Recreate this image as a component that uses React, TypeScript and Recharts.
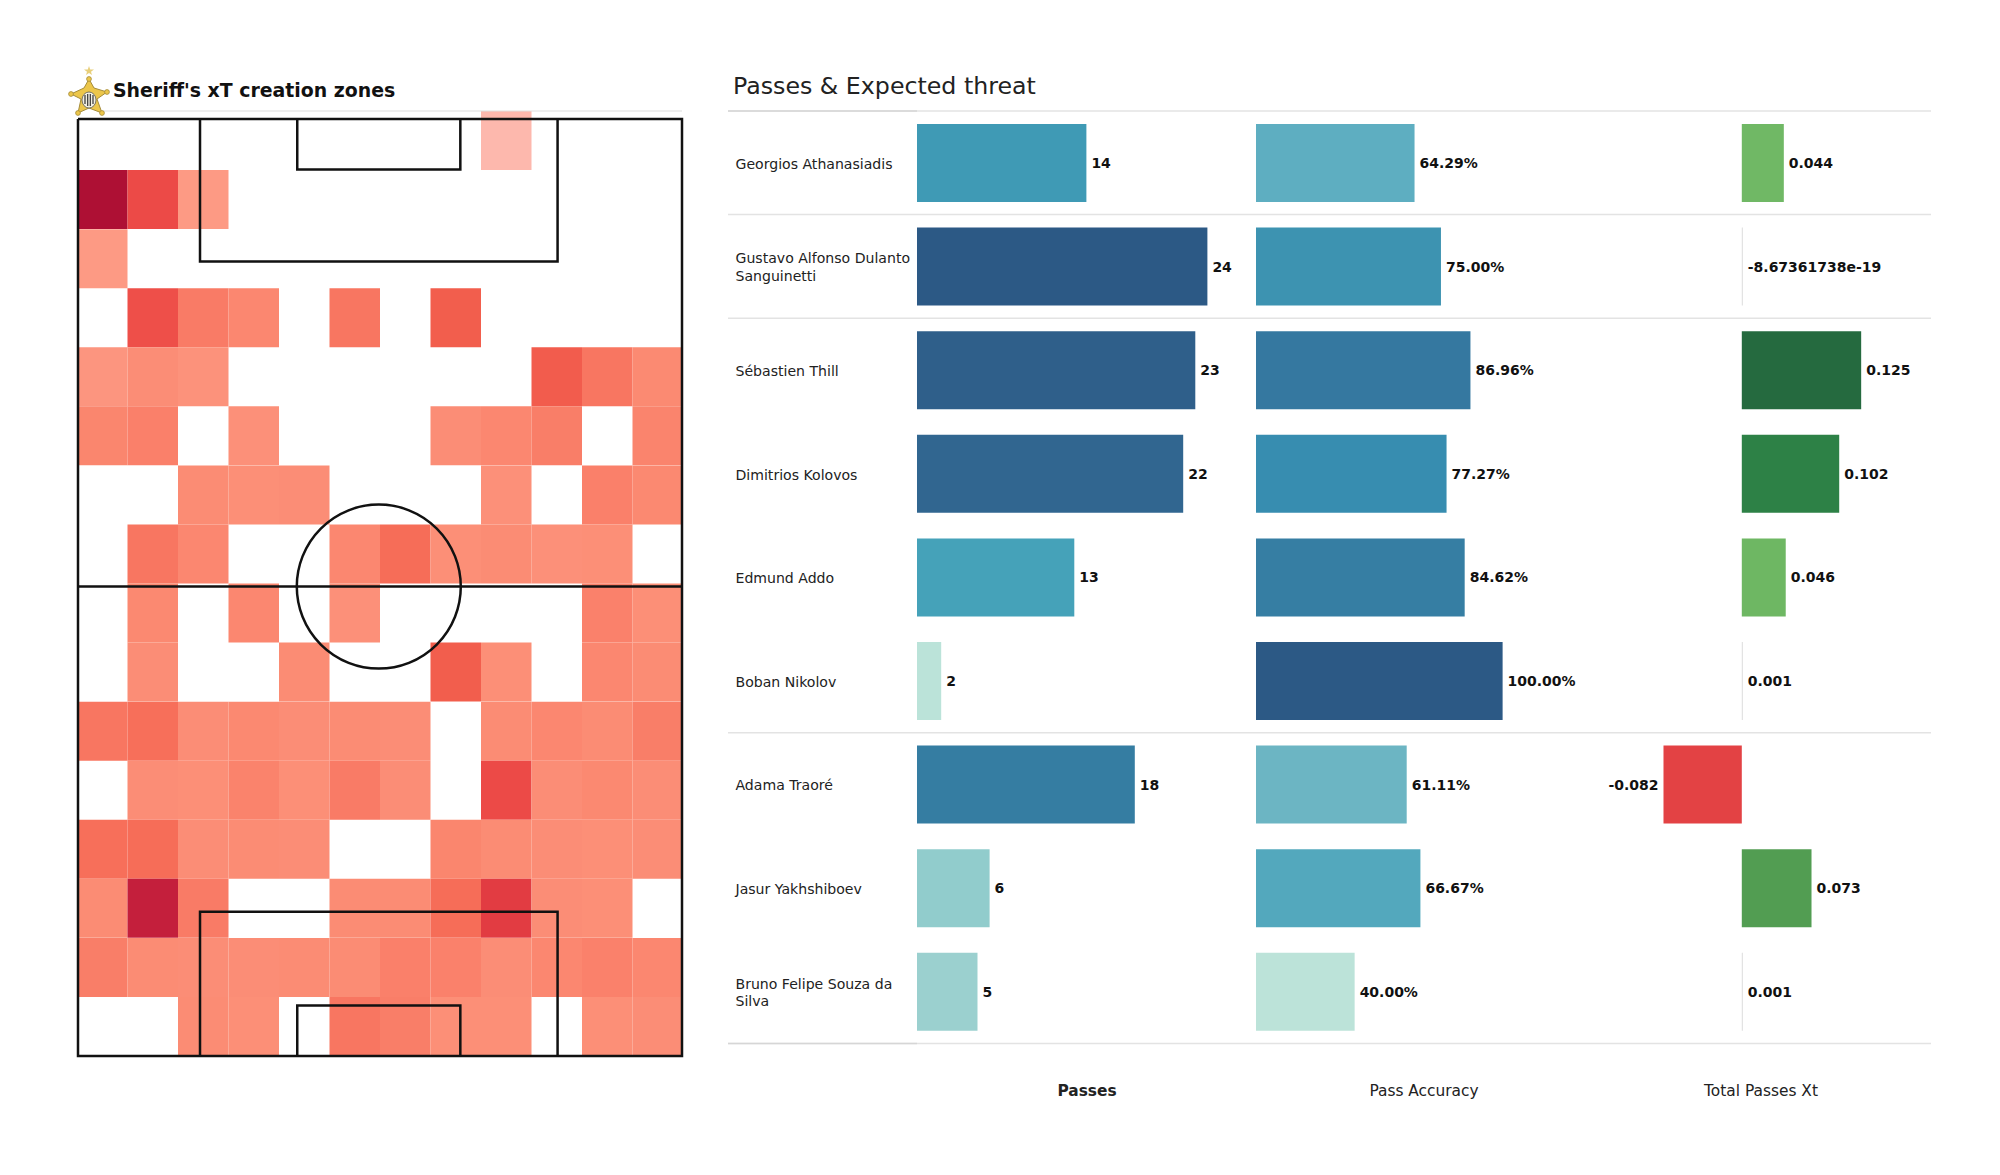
import {
  BarChart,
  Bar,
  Cell,
  LabelList,
  Line,
  LineChart,
  ReferenceDot,
  XAxis,
  YAxis,
} from 'recharts'

const FONT = '"DejaVu Sans", sans-serif'

// xT creation zones, top row of the pitch first, 12 columns wide (0 = no passes)
const zone00 = [0, 0, 0, 0, 0, 0, 0, 0, 0.2, 0, 0, 0]
const zone01 = [1, 0.7, 0.3, 0, 0, 0, 0, 0, 0, 0, 0, 0]
const zone02 = [0.3, 0, 0, 0, 0, 0, 0, 0, 0, 0, 0, 0]
const zone03 = [0, 0.68, 0.5, 0.42, 0, 0.52, 0, 0.62, 0, 0, 0, 0]
const zone04 = [0.33, 0.38, 0.35, 0, 0, 0, 0, 0, 0, 0.63, 0.52, 0.4]
const zone05 = [0.43, 0.47, 0, 0.36, 0, 0, 0, 0.38, 0.42, 0.48, 0, 0.44]
const zone06 = [0, 0, 0.39, 0.37, 0.38, 0, 0, 0, 0.36, 0, 0.47, 0.41]
const zone07 = [0, 0.52, 0.42, 0, 0, 0.42, 0.56, 0.37, 0.39, 0.36, 0.37, 0]
const zone08 = [0, 0.41, 0, 0.42, 0, 0.36, 0, 0, 0, 0, 0.46, 0.37]
const zone09 = [0, 0.38, 0, 0, 0.39, 0, 0, 0.62, 0.37, 0, 0.42, 0.39]
const zone10 = [0.52, 0.55, 0.38, 0.41, 0.38, 0.39, 0.38, 0, 0.39, 0.42, 0.39, 0.48]
const zone11 = [0, 0.38, 0.37, 0.45, 0.37, 0.5, 0.38, 0, 0.7, 0.38, 0.41, 0.38]
const zone12 = [0.55, 0.56, 0.38, 0.39, 0.38, 0, 0, 0.43, 0.39, 0.38, 0.37, 0.38]
const zone13 = [0.39, 0.95, 0.5, 0, 0, 0.39, 0.39, 0.56, 0.82, 0.38, 0.37, 0]
const zone14 = [0.48, 0.39, 0.38, 0.38, 0.39, 0.39, 0.47, 0.46, 0.38, 0.42, 0.46, 0.42]
const zone15 = [0, 0, 0.39, 0.37, 0, 0.52, 0.48, 0.37, 0.37, 0, 0.37, 0.38]
const zoneRows = [
  zone00, zone01, zone02, zone03, zone04, zone05, zone06, zone07,
  zone08, zone09, zone10, zone11, zone12, zone13, zone14, zone15,
]
const zoneColumns = [0, 1, 2, 3, 4, 5, 6, 7, 8, 9, 10, 11]

// colour ramp of the heatmap
const rampStops = [0.2, 0.3, 0.4, 0.5, 0.6, 0.7, 0.85, 0.95, 1]
const rampColors = [
  '#fdb8ad', '#fd9a84', '#fb8a72', '#f97b66', '#f4634f', '#ec4a47', '#df3841', '#c41f3c', '#ae1034',
]

// pitch markings, in percent of the pitch length and width
const outline = [[0, 0], [100, 0], [100, 100], [0, 100], [0, 0]]
const halfway = [[0, 49.9], [100, 49.9]]
const topBox = [[20.2, 0], [20.2, 15.2], [79.4, 15.2], [79.4, 0]]
const topSix = [[36.3, 0], [36.3, 5.4], [63.3, 5.4], [63.3, 0]]
const bottomBox = [[20.2, 100], [20.2, 84.6], [79.4, 84.6], [79.4, 100]]
const bottomSix = [[36.3, 100], [36.3, 94.6], [63.3, 94.6], [63.3, 100]]
const pitchLines = [outline, halfway, topBox, topSix, bottomBox, bottomSix]

const players = [
  'Georgios Athanasiadis',
  'Gustavo Alfonso Dulanto Sanguinetti',
  'Sébastien Thill',
  'Dimitrios Kolovos',
  'Edmund Addo',
  'Boban Nikolov',
  'Adama Traoré',
  'Jasur Yakhshiboev',
  'Bruno Felipe Souza da Silva',
]
const passes = [14, 24, 23, 22, 13, 2, 18, 6, 5]
const accuracy = [64.29, 75, 86.96, 77.27, 84.62, 100, 61.11, 66.67, 40]
const passesXt = [0.044, -8.67361738e-19, 0.125, 0.102, 0.046, 0.001, -0.082, 0.073, 0.001]
const xtLabels = ['0.044', '-8.67361738e-19', '0.125', '0.102', '0.046', '0.001', '-0.082', '0.073', '0.001']

const passColors = ['#3f9ab5', '#2c5985', '#2f5f8a', '#316690', '#45a2b9', '#bbe3d9', '#357da2', '#91cccc', '#9bd0cf']
const accuracyColors = ['#5eaec1', '#3d93b1', '#3578a0', '#378db0', '#367ea3', '#2c5985', '#6cb5c3', '#53a8bd', '#bce3d9']
const xtColors = ['#70b865', '#dcdcdc', '#256a3f', '#2d8146', '#6eb763', '#dcdcdc', '#e34244', '#529d52', '#dcdcdc']

const separators = [0, 1, 2, 6, 9]
const TABLE_WIDTH = 1203
const NAME_WIDTH = 189

const tableRows = players.map((name, i) => ({
  name,
  passes: passes[i],
  accuracy: accuracy[i],
  xt: passesXt[i],
  accuracyLabel: accuracy[i].toFixed(2) + '%',
  xtLabel: xtLabels[i],
}))

const heatRows = zoneRows.map((_, i) => {
  const row: Record<string, number | string> = { row: 'r' + i }
  zoneColumns.forEach((c) => (row['c' + c] = 1))
  return row
})

function heatColor(v: number) {
  if (v === 0) return 'transparent'
  let idx = 0
  rampStops.forEach((s, i) => {
    if (Math.abs(s - v) < Math.abs(rampStops[idx] - v)) idx = i
  })
  const next = v > rampStops[idx] ? Math.min(idx + 1, rampStops.length - 1) : Math.max(idx - 1, 0)
  if (next === idx) return rampColors[idx]
  const t = Math.abs(v - rampStops[idx]) / Math.abs(rampStops[next] - rampStops[idx])
  const hex = (c: string, p: number) => parseInt(c.slice(p, p + 2), 16)
  const mix = (p: number) => Math.round(hex(rampColors[idx], p) * (1 - t) + hex(rampColors[next], p) * t)
  return `rgb(${mix(1)},${mix(3)},${mix(5)})`
}

function NameTick({ y, payload }: any) {
  const lines: string[] = []
  String(payload.value)
    .split(' ')
    .forEach((word) => {
      const last = lines[lines.length - 1]
      if (last && (last + ' ' + word).length <= 24) lines[lines.length - 1] = last + ' ' + word
      else lines.push(word)
    })
  const startY = y + 6 - (lines.length - 1) * 9
  return (
    <text x={7.5} y={startY} fontFamily={FONT} fontSize={14.1} fill="#222" textAnchor="start">
      {lines.map((line, i) => (
        <tspan key={line} x={7.5} dy={i === 0 ? 0 : 17.7}>
          {line}
        </tspan>
      ))}
    </text>
  )
}

function SheriffLogo() {
  const tips = [
    [89, 79],
    [71, 94],
    [107, 92],
    [78, 113],
    [102, 113],
  ]
  return (
    <svg width={60} height={70} viewBox="60 60 60 70" style={{ position: 'absolute', left: 60, top: 60 }}>
      <polygon points="89,66 90.2,69.5 94,69.5 91,71.8 92,75 89,73 86,75 87,71.8 84,69.5 87.8,69.5" fill="#e8cf7a" />
      <polygon
        points="89,79 94,88 107,92 97,99 102,113 89,108 78,113 81,99 71,94 84,88"
        fill="#ecc64a"
        stroke="#a58c3a"
        strokeWidth={1}
      />
      {tips.map(([x, y]) => (
        <circle key={x} cx={x} cy={y} r={2.4} fill="#ecc64a" stroke="#a58c3a" strokeWidth={0.8} />
      ))}
      <ellipse cx={89} cy={100} rx={7} ry={8} fill="#f3f0e2" stroke="#555" strokeWidth={0.8} />
      <path d="M85 95v9M87.7 94v12M90.3 94v12M93 95v9" stroke="#333" strokeWidth={1.2} />
    </svg>
  )
}

function Heatmap() {
  return (
    <div style={{ position: 'absolute', left: 76.5, top: 111 }}>
      <BarChart
        width={606}
        height={945}
        data={heatRows}
        layout="vertical"
        barCategoryGap={0}
        margin={{ top: 0, right: 0, bottom: 0, left: 0 }}
      >
        <XAxis type="number" domain={[0, 12]} hide />
        <YAxis type="category" dataKey="row" hide />
        {zoneColumns.map((c) => (
          <Bar key={c} dataKey={'c' + c} stackId="zones" isAnimationActive={false}>
            {zoneRows.map((row, i) => (
              <Cell key={i} fill={heatColor(row[c])} />
            ))}
          </Bar>
        ))}
      </BarChart>
    </div>
  )
}

function PitchMarkings() {
  return (
    <div style={{ position: 'absolute', left: 74, top: 107 }}>
      <LineChart width={612} height={953} margin={{ top: 4, right: 4, bottom: 4, left: 4 }}>
        <XAxis type="number" dataKey="x" domain={[0, 100]} hide />
        <YAxis type="number" dataKey="y" domain={[-0.85, 100]} reversed hide />
        <Line
          data={[{ x: 4, y: -0.85 }, { x: 100, y: -0.85 }]}
          dataKey="y"
          stroke="#dddddd"
          strokeWidth={1}
          dot={false}
          isAnimationActive={false}
        />
        {pitchLines.map((points, i) => (
          <Line
            key={i}
            data={points.map(([x, y]) => ({ x, y }))}
            dataKey="y"
            stroke="#111"
            strokeWidth={2.5}
            dot={false}
            isAnimationActive={false}
          />
        ))}
        <ReferenceDot x={49.8} y={49.9} r={82} fill="none" stroke="#111" strokeWidth={2.5} ifOverflow="visible" />
      </LineChart>
    </div>
  )
}

function Separators() {
  return (
    <div style={{ position: 'absolute', left: 728, top: 108.75 }}>
      <LineChart width={TABLE_WIDTH} height={936.5} margin={{ top: 2, right: 0, bottom: 2, left: 0 }}>
        <XAxis type="number" dataKey="x" domain={[0, TABLE_WIDTH]} hide />
        <YAxis type="number" dataKey="y" domain={[0, 9]} reversed hide />
        {separators.map((s) => (
          <Line
            key={s}
            data={[{ x: 0, y: s }, { x: TABLE_WIDTH, y: s }]}
            dataKey="y"
            stroke="#e3e3e3"
            strokeWidth={1.5}
            dot={false}
            isAnimationActive={false}
          />
        ))}
        {[0, 9].map((s) => (
          <Line
            key={'name' + s}
            data={[{ x: 0, y: s }, { x: NAME_WIDTH, y: s }]}
            dataKey="y"
            stroke="#d6d6d6"
            strokeWidth={1.5}
            dot={false}
            isAnimationActive={false}
          />
        ))}
      </LineChart>
    </div>
  )
}

const labelStyle = { fontFamily: FONT, fontSize: 14, fontWeight: 700, fill: '#111' }

function ColumnChart({
  left,
  width,
  yWidth,
  dataKey,
  labelKey,
  domain,
  colors,
  labelOffset,
  tick,
}: {
  left: number
  width: number
  yWidth: number
  dataKey: string
  labelKey: string
  domain: [number, number]
  colors: string[]
  labelOffset: number
  tick?: any
}) {
  return (
    <div style={{ position: 'absolute', left, top: 110.75 }}>
      <BarChart
        width={width}
        height={932.5}
        data={tableRows}
        layout="vertical"
        barCategoryGap="12.5%"
        margin={{ top: 0, right: 0, bottom: 0, left: 0 }}
      >
        <XAxis type="number" domain={domain} hide />
        <YAxis
          type="category"
          dataKey="name"
          width={yWidth}
          hide={!tick}
          axisLine={false}
          tickLine={false}
          interval={0}
          tick={tick}
        />
        <Bar dataKey={dataKey} minPointSize={1} isAnimationActive={false}>
          {tableRows.map((row, i) => (
            <Cell key={row.name} fill={colors[i]} />
          ))}
          <LabelList dataKey={labelKey} position="right" offset={labelOffset} style={labelStyle} />
        </Bar>
      </BarChart>
    </div>
  )
}

function FooterLabel({ x, bold, children }: { x: number; bold?: boolean; children: string }) {
  return (
    <div
      style={{
        position: 'absolute',
        left: x,
        top: 1082,
        transform: 'translateX(-50%)',
        fontFamily: FONT,
        fontSize: 15.4,
        fontWeight: bold ? 700 : 400,
        color: '#222',
        whiteSpace: 'nowrap',
      }}
    >
      {children}
    </div>
  )
}

export default function App() {
  return (
    <div style={{ position: 'absolute', left: 0, top: 0, width: 2000, height: 1175, overflow: 'hidden', background: '#fff' }}>
      <Heatmap />
      <PitchMarkings />
      <SheriffLogo />
      <div
        style={{
          position: 'absolute',
          left: 113,
          top: 78.5,
          fontFamily: FONT,
          fontSize: 18.9,
          fontWeight: 700,
          color: '#111',
          whiteSpace: 'nowrap',
        }}
      >
        Sheriff's xT creation zones
      </div>
      <div
        style={{
          position: 'absolute',
          left: 733,
          top: 72,
          fontFamily: FONT,
          fontSize: 23.7,
          color: '#222',
          whiteSpace: 'nowrap',
        }}
      >
        Passes &amp; Expected threat
      </div>
      <Separators />
      <ColumnChart
        left={728}
        width={527.8}
        yWidth={NAME_WIDTH}
        dataKey="passes"
        labelKey="passes"
        domain={[0, 28]}
        colors={passColors}
        labelOffset={5}
        tick={NameTick}
      />
      <ColumnChart
        left={1255.5}
        width={320.6}
        yWidth={0}
        dataKey="accuracy"
        labelKey="accuracyLabel"
        domain={[0, 130]}
        colors={accuracyColors}
        labelOffset={5}
      />
      <ColumnChart
        left={1588.8}
        width={391.55}
        yWidth={0}
        dataKey="xt"
        labelKey="xtLabel"
        domain={[-0.16, 0.25]}
        colors={xtColors}
        labelOffset={5}
      />
      <FooterLabel x={1087} bold>
        Passes
      </FooterLabel>
      <FooterLabel x={1424}>Pass Accuracy</FooterLabel>
      <FooterLabel x={1761}>Total Passes Xt</FooterLabel>
    </div>
  )
}
